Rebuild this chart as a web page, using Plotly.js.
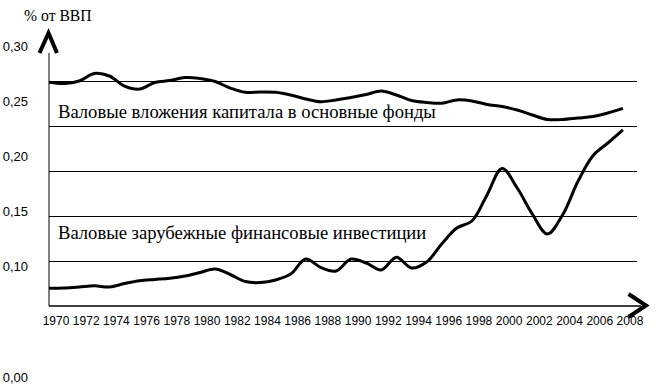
<!DOCTYPE html>
<html><head><meta charset="utf-8">
<script src="https://cdn.plot.ly/plotly-3.0.1.min.js"></script>
<style>html,body{margin:0;padding:0;background:#fff}</style>
</head><body><div id="chart" style="width:661px;height:384px"></div>
<script>
var years = [];
for (var yr = 1970; yr <= 2008; yr++) years.push(yr);
var grossCapital = [0.2671,0.2660,0.2683,0.2751,0.2728,0.2637,0.2610,0.2669,0.2687,0.2714,
  0.2705,0.2678,0.2619,0.2580,0.2583,0.2580,0.2556,0.2520,0.2495,0.2511,
  0.2533,0.2560,0.2592,0.2556,0.2506,0.2488,0.2481,0.2511,0.2502,0.2470,
  0.2452,0.2420,0.2375,0.2334,0.2334,0.2347,0.2361,0.2393,0.2435];
var foreignInvest = [0.0804,0.0807,0.0816,0.0827,0.0816,0.0847,0.0873,0.0884,0.0895,0.0915,
  0.0947,0.0979,0.0929,0.0865,0.0856,0.0879,0.0933,0.1069,0.0992,0.0961,
  0.1069,0.1033,0.0970,0.1085,0.0988,0.1042,0.1205,0.1350,0.1414,0.1650,
  0.1890,0.1713,0.1477,0.1296,0.1468,0.1767,0.2003,0.2121,0.2239];
var xTickVals = [1970,1972,1974,1976,1978,1980,1982,1984,1986,1988,1990,1992,1994,1996,1998,2000,2002,2004,2006,2008];
var xTickText = xTickVals.map(String);
var yTickVals = [0.00,0.10,0.15,0.20,0.25,0.30];
var yTickText = ['0,00','0,10','0,15','0,20','0,25','0,30'];
var gridVals = [0.05,0.10,0.15,0.20,0.25];
var label1 = 'Валовые вложения капитала в основные фонды';
var label2 = 'Валовые зарубежные финансовые инвестиции';
var yTitle = '% от ВВП';

var W = 661, H = 384;
function px(x){return x/W;}
function py(y){return 1 - y/H;}

var lineStyle = {color:'#000', width:3, shape:'spline', smoothing:1};
var traces = [
  {x:[null], y:[null], type:'scatter', mode:'lines', xaxis:'x', yaxis:'y', hoverinfo:'skip'},
  {x:years, y:grossCapital, type:'scatter', mode:'lines', line:lineStyle, xaxis:'x2', yaxis:'y2', hoverinfo:'skip'},
  {x:years, y:foreignInvest, type:'scatter', mode:'lines', line:lineStyle, xaxis:'x2', yaxis:'y2', hoverinfo:'skip'}
];

var xRange = [1970, 2008.93];
var layout = {
  width: W, height: H,
  margin: {l:0, r:0, t:0, b:0, pad:0},
  paper_bgcolor: '#fff', plot_bgcolor: 'rgba(0,0,0,0)',
  showlegend: false,
  xaxis: {domain:[px(49), px(637)], range:xRange, anchor:'y',
    showgrid:false, zeroline:false, showline:false, ticks:'',
    tickvals:xTickVals, ticktext:xTickText, ticklabelshift:7, ticklabelstandoff:6,
    tickfont:{family:'Liberation Sans, Arial, sans-serif', size:12, color:'#000'}},
  yaxis: {domain:[1-306/H, 1-36/H], range:[0, 0.30], anchor:'x',
    showgrid:true, gridcolor:'#000', gridwidth:1, zeroline:false, showline:false,
    tickvals:gridVals, showticklabels:false, ticks:''},
  xaxis2: {domain:[px(49), px(637)], range:xRange, anchor:'free', position:0,
    showgrid:false, zeroline:false, showline:false, showticklabels:false, ticks:''},
  yaxis2: {domain:[0,1], range:[-0.00634, 0.3417], anchor:'free', position:px(49), side:'left',
    showgrid:false, zeroline:false, showline:false, ticks:'', ticklabeloverflow:'allow',
    tickvals:yTickVals, ticktext:yTickText, ticklabelstandoff:21,
    tickfont:{family:'Liberation Sans, Arial, sans-serif', size:13, color:'#000'}},
  shapes: [
    {type:'line', xref:'paper', yref:'paper', x0:px(49), x1:px(49), y0:py(53), y1:py(306), line:{color:'#000', width:1}},
    {type:'line', xref:'paper', yref:'paper', x0:px(49), x1:px(641), y0:py(306), y1:py(306), line:{color:'#000', width:1.5}},
    {type:'path', xref:'paper', yref:'paper',
      path:'M '+px(39.5)+' '+py(53)+' L '+px(48.5)+' '+py(33)+' L '+px(57)+' '+py(53),
      line:{color:'#000', width:4}},
    {type:'path', xref:'paper', yref:'paper',
      path:'M '+px(628.5)+' '+py(294)+' L '+px(646)+' '+py(305.5)+' L '+px(628.5)+' '+py(317),
      line:{color:'#000', width:4}}
  ],
  annotations: [
    {xref:'paper', yref:'paper', x:px(22), y:py(15), xanchor:'left', yanchor:'middle', showarrow:false,
      text:yTitle, font:{family:'Liberation Serif, Times New Roman, serif', size:15.7, color:'#000'}},
    {xref:'paper', yref:'paper', x:px(56), y:py(111), xanchor:'left', yanchor:'middle', showarrow:false,
      text:label1, font:{family:'Liberation Serif, Times New Roman, serif', size:18.6, color:'#000'}},
    {xref:'paper', yref:'paper', x:px(56), y:py(232), xanchor:'left', yanchor:'middle', showarrow:false,
      text:label2, font:{family:'Liberation Serif, Times New Roman, serif', size:18.6, color:'#000'}}
  ]
};
Plotly.newPlot('chart', traces, layout, {staticPlot:true, displayModeBar:false});
</script></body></html>
